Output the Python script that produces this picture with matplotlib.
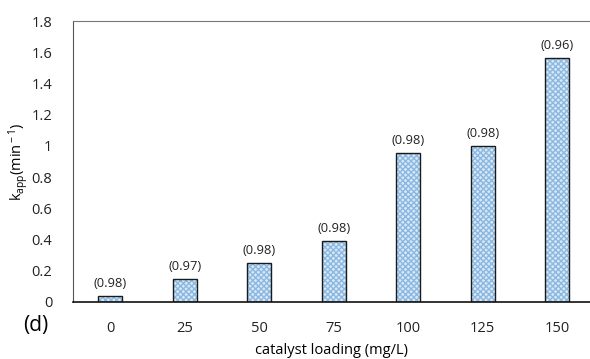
import matplotlib.pyplot as plt

plt.rcParams['font.family'] = ['Open Sans', 'DejaVu Sans']
plt.rcParams['mathtext.fontset'] = 'custom'
plt.rcParams['mathtext.rm'] = 'Open Sans'
plt.rcParams['mathtext.it'] = 'Open Sans'

# data
loading = ['0', '25', '50', '75', '100', '125', '150']
kapp = [0.04, 0.147, 0.25, 0.39, 0.955, 1.0, 1.56]
r2 = ['(0.98)', '(0.97)', '(0.98)', '(0.98)', '(0.98)', '(0.98)', '(0.96)']
yticks = [0, 0.2, 0.4, 0.6, 0.8, 1.0, 1.2, 1.4, 1.6, 1.8]
ytick_labels = ['0', '0.2', '0.4', '0.6', '0.8', '1', '1.2', '1.4', '1.6', '1.8']

fig = plt.figure(figsize=(5.9, 3.59), dpi=100)
ax = fig.add_axes([0.1237, 0.1588, 0.8763, 0.7827])

x = list(range(len(loading)))
w = 0.32
# hatched fill, then black outline
ax.bar(x, kapp, width=w, color='#d8e8f6', edgecolor='#8bb8e0', hatch='xxxxxx', linewidth=0)
ax.bar(x, kapp, width=w, fill=False, edgecolor='#1a1a1a', linewidth=1.0)

for xi, v, t in zip(x, kapp, r2):
    ax.text(xi, v + 0.04, t, ha='center', va='bottom', fontsize=9.3, color='#222222')

ax.set_xlim(-0.5, 6.44)
ax.set_ylim(0, 1.8)
ax.set_yticks(yticks)
ax.set_yticklabels(ytick_labels)
ax.set_xticks(x)
ax.set_xticklabels(loading)
ax.tick_params(axis='both', length=0, labelsize=10.5, colors='#222222')
ax.tick_params(axis='y', pad=15)
ax.tick_params(axis='x', pad=14)

ax.spines['top'].set_color('#777777')
ax.spines['left'].set_color('#555555')
ax.spines['bottom'].set_color('#111111')
ax.spines['bottom'].set_linewidth(1.2)
ax.spines['right'].set_visible(False)

ax.set_ylabel(r'k$_{\rm app}$(min$^{\rm -1}$)', fontsize=10.5, labelpad=0)
ax.set_xlabel('catalyst loading (mg/L)', fontsize=10.5, labelpad=5)
fig.text(0.06, 0.094, '(d)', fontsize=15, ha='center', va='center')

fig.savefig('out.png', dpi=100)
